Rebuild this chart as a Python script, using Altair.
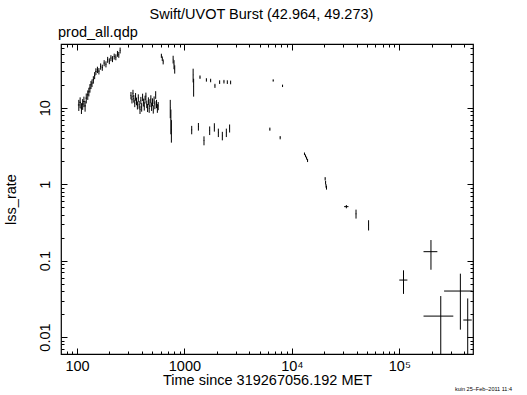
import altair as alt
import pandas as pd

FONT = "Liberation Sans"

# ---- data (time since trigger [s], rate, symmetric errors) ----
# early rise
tA = [104, 107, 110, 113, 116, 119, 122, 126, 129, 132, 135, 138, 142, 146, 150,
      155, 160, 166, 172, 179, 186, 193, 200, 207, 214, 222, 230, 238, 245, 252]
teA = [2, 2, 2, 2, 2, 2, 2, 2, 2, 2, 2, 2, 2, 2, 2,
       2, 2, 2, 2, 2, 2, 2, 2, 2, 2, 2, 2, 2, 2, 2]
rA = [10.9, 11.8, 9.9, 11.2, 12.1, 10.6, 13.4, 14.8, 16.2, 18.1, 20.0, 21.1, 23.3, 26.5, 29.9,
      31.5, 30.2, 34.8, 33.6, 38.5, 37.2, 42.6, 40.8, 44.8, 43.5, 47.0, 46.0, 51.0, 49.5, 56.4]
eA = [1.8, 1.9, 1.6, 1.8, 1.9, 1.7, 2.0, 2.1, 2.1, 2.3, 2.4, 2.4, 2.6, 2.8, 3.0,
      3.0, 2.9, 3.3, 3.1, 3.5, 3.4, 3.8, 3.6, 4.0, 3.9, 4.2, 4.1, 4.5, 4.4, 5.0]

# noisy plateau
tB = [318, 325, 332, 338, 345, 351, 358, 365, 372, 379, 386, 393, 400, 408, 415, 423, 430,
      438, 446, 454, 462, 470, 478, 487, 495, 504, 513, 522, 531, 540, 550, 560, 570]
teB = [3, 3, 3, 3, 3, 3, 3, 3, 3, 3, 3, 3, 3, 3, 3, 3, 3,
       3, 3, 3, 3, 3, 3, 3, 3, 3, 3, 3, 3, 3, 3, 3, 3]
rB = [14.5, 12.8, 15.5, 13.2, 11.5, 14.0, 12.2, 10.8, 13.5, 11.0, 9.5, 12.5, 10.2, 13.8, 11.8, 10.5, 12.9,
      14.2, 11.2, 10.0, 12.3, 9.8, 11.6, 13.1, 10.4, 11.9, 9.6, 12.6, 10.9, 14.8, 11.3, 9.9, 10.6]
eB = [1.6, 1.4, 1.7, 1.5, 1.3, 1.6, 1.4, 1.3, 1.5, 1.3, 1.2, 1.4, 1.3, 1.5, 1.4, 1.3, 1.5,
      1.6, 1.3, 1.2, 1.4, 1.2, 1.4, 1.5, 1.3, 1.4, 1.2, 1.5, 1.3, 1.7, 1.4, 1.3, 1.3]

# short segments after the plateau
tC = [610, 622, 634, 738, 748, 756, 785, 800, 812, 1205, 1218]
teC = [3, 3, 3, 3, 3, 3, 3, 3, 3, 4, 4]
rC = [48.0, 44.0, 40.0, 10.0, 7.0, 5.2, 43.0, 37.0, 32.0, 27.0, 19.0]
eC = [3.0, 3.0, 3.0, 2.7, 2.5, 1.7, 5.0, 5.0, 4.0, 5.5, 5.0]

# upper filter sequence
tD = [1396, 1601, 1754, 1923, 2127, 2333, 2507, 2692, 6700, 8190]
teD = [10, 10, 10, 10, 10, 10, 10, 10, 40, 40]
rD = [25.2, 23.2, 22.8, 19.4, 21.7, 22.0, 21.7, 21.5, 22.8, 19.4]
eD = [1.3, 1.2, 1.2, 1.2, 1.2, 1.2, 1.2, 1.2, 0.8, 0.7]

# lower filter sequence
tE = [1169, 1349, 1521, 1718, 1899, 2069, 2253, 2455, 2634, 6240, 7780]
teE = [10, 10, 10, 10, 10, 10, 10, 10, 10, 40, 40]
rE = [5.15, 5.68, 3.73, 5.05, 5.58, 4.74, 4.30, 4.74, 5.40, 5.26, 4.07]
eE = [0.65, 0.65, 0.5, 0.65, 0.7, 0.6, 0.55, 0.6, 0.65, 0.25, 0.2]

# decay
tF = [13100, 13400, 13700, 14000, 20400, 20600, 20800, 21000, 32140, 39540, 51760]
teF = [60, 60, 60, 60, 80, 80, 80, 80, 1500, 300, 300]
rF = [2.50, 2.35, 2.20, 2.05, 1.18, 1.05, 0.95, 0.90, 0.509, 0.41, 0.293]
eF = [0.10, 0.10, 0.10, 0.10, 0.06, 0.06, 0.05, 0.05, 0.025, 0.055, 0.045]

# late, faint
tG = [109400, 197000, 243000, 370000, 433000]
teG = [9500, 29000, 75000, 109000, 39000]
rG = [0.0557, 0.131, 0.0188, 0.040, 0.0167]
eG = [0.019, 0.055, 0.0156, 0.0275, 0.0153]

x_major = [100, 1000, 10000, 100000]
x_minor = [80, 90, 200, 300, 400, 500, 600, 700, 800, 900,
           2000, 3000, 4000, 5000, 6000, 7000, 8000, 9000,
           20000, 30000, 40000, 50000, 60000, 70000, 80000, 90000,
           200000, 300000, 400000]
x_labels = ["100", "1000", "10⁴", "10⁵"]
y_major = [0.01, 0.1, 1, 10]
y_minor = [0.007, 0.008, 0.009, 0.02, 0.03, 0.04, 0.05, 0.06, 0.07, 0.08, 0.09,
           0.2, 0.3, 0.4, 0.5, 0.6, 0.7, 0.8, 0.9, 2, 3, 4, 5, 6, 7, 8, 9,
           20, 30, 40, 50, 60]
y_labels = ["0.01", "0.1", "1", "10"]

t = tA + tB + tC + tD + tE + tF + tG
te = teA + teB + teC + teD + teE + teF + teG
r = rA + rB + rC + rD + rE + rF + rG
e = eA + eB + eC + eD + eE + eF + eG

df = pd.DataFrame({"t": t, "te": te, "rate": r, "err": e})
df["t_lo"] = df["t"] - df["te"]
df["t_hi"] = df["t"] + df["te"]
df["r_lo"] = df["rate"] - df["err"]
df["r_hi"] = df["rate"] + df["err"]

xs = alt.Scale(type="log", domain=[71, 485000], nice=False, zero=False)
ys = alt.Scale(type="log", domain=[0.006, 68.4], nice=False, zero=False)


def lab_expr(vals, labs):
    s = "''"
    for v, l in zip(vals, labs):
        s = f"abs(datum.value - {v}) < {v}*0.01 ? '{l}' : ({s})"
    return s


common = dict(grid=False, domain=False, tickColor="black", tickWidth=1,
              labelColor="black", labelFont=FONT, labelFontSize=14.5,
              labelFlush=False, labelOverlap=False, titleColor="black",
              titleFont=FONT, titleFontSize=14.5, titleFontWeight="normal")

ax_bottom = alt.Axis(orient="bottom", values=x_major, tickSize=6, offset=-6,
                     labelExpr=lab_expr(x_major, x_labels), labelPadding=5,
                     title="Time since 319267056.192 MET", titlePadding=1, **common)
ax_bottom_m = alt.Axis(orient="bottom", values=x_minor, tickSize=3, offset=-3,
                       labels=False, title=None, **common)
ax_top = alt.Axis(orient="top", values=x_major, tickSize=6, offset=-6,
                  labels=False, title=None, **common)
ax_top_m = alt.Axis(orient="top", values=x_minor, tickSize=3, offset=-3,
                    labels=False, title=None, **common)
ax_left = alt.Axis(orient="left", values=y_major, tickSize=6, offset=-6,
                   labelExpr=lab_expr(y_major, y_labels), labelAngle=270,
                   labelAlign="center", labelBaseline="bottom", labelPadding=9,
                   title="lss_rate", titlePadding=19, **common)
ax_left_m = alt.Axis(orient="left", values=y_minor, tickSize=3, offset=-3,
                     labels=False, title=None, **common)
ax_right = alt.Axis(orient="right", values=y_major, tickSize=6, offset=-6,
                    labels=False, title=None, **common)
ax_right_m = alt.Axis(orient="right", values=y_minor, tickSize=3, offset=-3,
                      labels=False, title=None, **common)

base = alt.Chart(df)

vbars = base.mark_rule(color="black", strokeWidth=1, clip=True).encode(
    x=alt.X("t:Q", scale=xs, axis=ax_bottom),
    y=alt.Y("r_lo:Q", scale=ys, axis=ax_left),
    y2="r_hi:Q",
)
hbars = base.mark_rule(color="black", strokeWidth=1, clip=True).encode(
    x=alt.X("t_lo:Q", scale=xs, axis=ax_top),
    x2="t_hi:Q",
    y=alt.Y("rate:Q", scale=ys, axis=ax_right),
)
minor1 = base.mark_point(opacity=0).encode(
    x=alt.X("t:Q", scale=xs, axis=ax_bottom_m),
    y=alt.Y("rate:Q", scale=ys, axis=ax_left_m),
)
minor2 = base.mark_point(opacity=0).encode(
    x=alt.X("t:Q", scale=xs, axis=ax_top_m),
    y=alt.Y("rate:Q", scale=ys, axis=ax_right_m),
)

one = pd.DataFrame({"k": [0]})
title_txt = alt.Chart(one).mark_text(font=FONT, fontSize=14.5, align="center",
                                     baseline="alphabetic", color="black").encode(
    x=alt.value(200.5), y=alt.value(-25), text=alt.value("Swift/UVOT Burst (42.964, 49.273)"))
sub_txt = alt.Chart(one).mark_text(font=FONT, fontSize=14.5, align="left",
                                   baseline="alphabetic", color="black").encode(
    x=alt.value(-3), y=alt.value(-7), text=alt.value("prod_all.qdp"))
foot_txt = alt.Chart(one).mark_text(font=FONT, fontSize=5.5, align="left",
                                    baseline="alphabetic", color="black").encode(
    x=alt.value(394), y=alt.value(347), text=alt.value("kuin 25–Feb–2011 11:4"))

chart = alt.layer(vbars, hbars, minor1, minor2, title_txt, sub_txt, foot_txt).resolve_axis(
    x="independent", y="independent"
).properties(
    width=412, height=310,
    autosize=alt.AutoSizeParams(type="none"),
    padding={"left": 61, "top": 44, "right": 54, "bottom": 41},
    background="white",
).configure_view(stroke="black", strokeWidth=1.2)

chart.save("out.html", embed_options={"renderer": "svg", "actions": False})
